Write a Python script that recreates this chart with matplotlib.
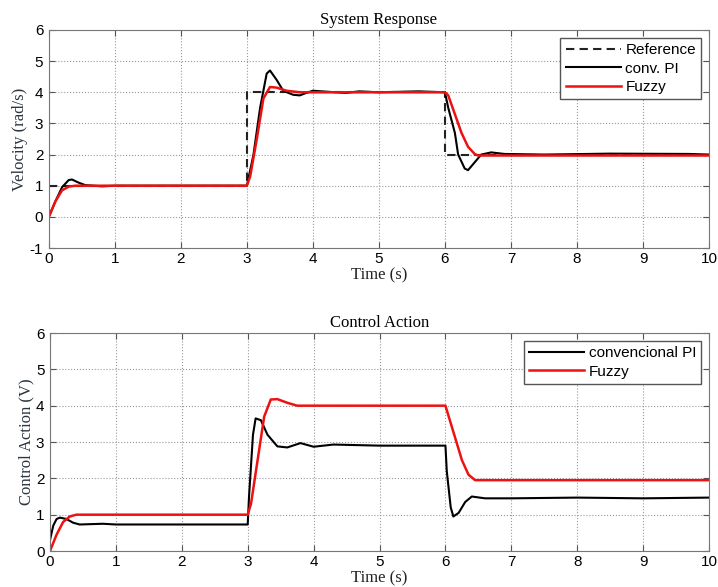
import numpy as np
import matplotlib.pyplot as plt

# time / value keypoints
REF_T = [0, 3, 3, 6, 6, 10]
REF_V = [1, 1, 4, 4, 2, 2]

PI_T = [0, 0.1, 0.2, 0.3, 0.35, 0.45, 0.55, 0.8, 1.0, 3.0, 3.1, 3.2, 3.3, 3.35, 3.45, 3.55,
        3.7, 3.8, 3.9, 4.0, 4.2, 4.5, 4.7, 5.0, 5.6, 6.0, 6.05, 6.15, 6.2, 6.3, 6.35, 6.45,
        6.55, 6.7, 6.9, 7.5, 8.5, 9.7, 10]
PI_V = [0, 0.5, 0.95, 1.18, 1.2, 1.1, 1.02, 0.98, 1.0, 1.0, 2.0, 3.5, 4.6, 4.7, 4.4, 4.05,
        3.92, 3.9, 3.98, 4.05, 4.02, 3.98, 4.03, 4.0, 4.03, 4.0, 3.5, 2.7, 2.0, 1.55, 1.5, 1.75,
        2.0, 2.07, 2.02, 2.0, 2.03, 2.02, 2.0]

FZ_T = [0, 0.1, 0.2, 0.3, 0.4, 3.0, 3.05, 3.15, 3.25, 3.35, 3.45, 3.6, 3.8, 6.0, 6.05,
        6.15, 6.25, 6.35, 6.45, 6.5, 10]
FZ_V = [0, 0.5, 0.85, 0.97, 1.0, 1.0, 1.3, 2.5, 3.8, 4.17, 4.15, 4.05, 4.0, 4.0, 3.9,
        3.3, 2.7, 2.25, 2.02, 1.97, 1.97]

UPI_T = [0, 0.05, 0.1, 0.15, 0.25, 0.35, 0.45, 0.8, 1.0, 3.0, 3.02, 3.08, 3.12, 3.2, 3.3,
         3.45, 3.6, 3.8, 4.0, 4.3, 5.0, 6.0, 6.02, 6.08, 6.12, 6.2, 6.3, 6.4, 6.6, 7.0, 8.0,
         9.0, 10]
UPI_V = [0.3, 0.7, 0.88, 0.92, 0.88, 0.78, 0.73, 0.75, 0.73, 0.73, 1.5, 3.2, 3.65, 3.6, 3.2,
         2.88, 2.85, 2.97, 2.87, 2.93, 2.9, 2.9, 2.2, 1.2, 0.95, 1.05, 1.35, 1.5, 1.45, 1.45,
         1.47, 1.45, 1.47]

UFZ_T = [0, 0.1, 0.2, 0.3, 0.4, 3.0, 3.05, 3.15, 3.25, 3.35, 3.45, 3.6, 3.75, 6.0, 6.05,
         6.15, 6.25, 6.35, 6.45, 10]
UFZ_V = [0, 0.45, 0.8, 0.95, 1.0, 1.0, 1.3, 2.5, 3.7, 4.17, 4.18, 4.08, 4.0, 4.0, 3.7,
         3.1, 2.5, 2.1, 1.95, 1.95]

serif = 'Liberation Serif'
sans = 'Liberation Sans'
lab_col = '#2b3540'
plt.rcParams['axes.unicode_minus'] = False

fig = plt.figure(figsize=(7.18, 5.87), dpi=100)
ax1 = fig.add_axes([0.068, 0.5775, 0.9195, 0.3714])
ax2 = fig.add_axes([0.0696, 0.0613, 0.918, 0.3714])


def style(ax, title, ylabel, ylim):
    ax.set_xlim(0, 10)
    ax.set_ylim(*ylim)
    ax.set_xticks(range(0, 11))
    ax.set_yticks(range(ylim[0], ylim[1] + 1))
    ax.grid(True, linestyle=':', color='#999999', linewidth=0.8)
    ax.tick_params(direction='in', length=4, color='#555555', labelsize=11,
                   top=True, right=True, pad=4)
    ax.tick_params(axis='x', pad=3)
    for lbl in ax.get_xticklabels() + ax.get_yticklabels():
        lbl.set_fontfamily(sans)
    for s in ax.spines.values():
        s.set_color('#777777')
    ax.set_title(title, family=serif, fontsize=12, pad=4)
    ax.set_xlabel('Time (s)', family=serif, fontsize=12, labelpad=1, color='#222222')
    ax.set_ylabel(ylabel, family=serif, fontsize=12, labelpad=1, color=lab_col)


ax1.plot(REF_T, REF_V, color='#222222', ls=(0, (4, 2.5)), lw=1.5, label='Reference')
ax1.plot(PI_T, PI_V, 'k-', lw=1.5, label='conv. PI')
ax1.plot(FZ_T, FZ_V, color='#ee1111', lw=1.8, label='Fuzzy')
style(ax1, 'System Response', 'Velocity (rad/s)', (-1, 6))
ax1.legend(loc='upper right', prop={'family': sans, 'size': 11}, fancybox=False,
           edgecolor='#555555', framealpha=1, handlelength=3.6, borderpad=0.35,
           labelspacing=0.3, handletextpad=0.3, borderaxespad=0.5)

ax2.plot(UPI_T, UPI_V, 'k-', lw=1.5, label='convencional PI')
ax2.plot(UFZ_T, UFZ_V, color='#ee1111', lw=1.8, label='Fuzzy')
style(ax2, 'Control Action', 'Control Action (V)', (0, 6))
ax2.legend(loc='upper right', prop={'family': sans, 'size': 11}, fancybox=False,
           edgecolor='#555555', framealpha=1, handlelength=3.6, borderpad=0.35,
           labelspacing=0.3, handletextpad=0.3, borderaxespad=0.5)

fig.savefig('out.png', dpi=100)
